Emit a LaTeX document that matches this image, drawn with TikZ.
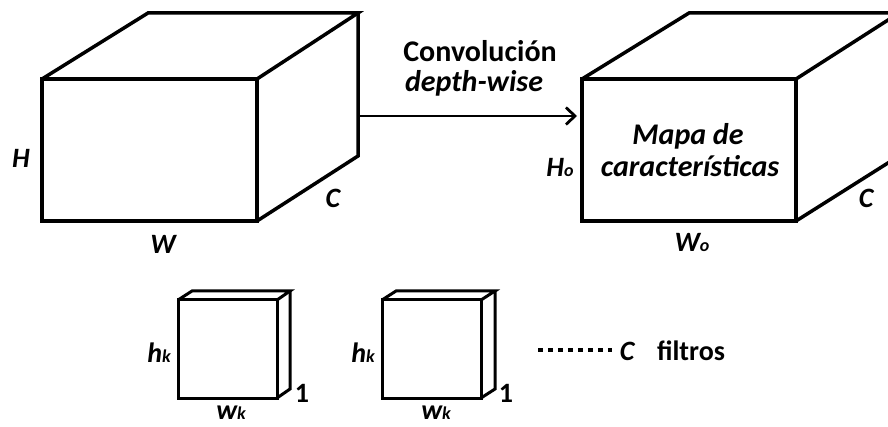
\documentclass[tikz,border=0pt]{standalone}
\usepackage{fontspec}
\setmainfont{Carlito}
\usetikzlibrary{arrows.meta}
\tikzset{
  box/.style={line width=3.5pt, line join=miter},
  thin box/.style={line width=3pt, line join=miter},
  big/.style={font=\fontsize{30}{36}\selectfont\bfseries},
  bigit/.style={font=\fontsize{30}{36}\selectfont\bfseries\itshape},
  lbl/.style={font=\fontsize{28}{30}\selectfont\bfseries\itshape},
  small/.style={font=\fontsize{28}{30}\selectfont\bfseries},
}
\newcommand{\subsm}[1]{{\fontsize{18}{18}\selectfont #1}}
\begin{document}
\begin{tikzpicture}[x=1pt,y=-1pt]
\useasboundingbox (0,0) rectangle (888,427);
\clip (0,0) rectangle (888,427);
% left cube
\coordinate (a1) at (42,79);
\coordinate (a2) at (257,79);
\coordinate (a3) at (257,221);
\coordinate (a4) at (42,221);
\coordinate (b1) at (148,13);
\coordinate (b2) at (358,13);
\coordinate (b3) at (358,156);
\draw[box] (a1) -- (a2) -- (a3) -- (a4) -- cycle;
\draw[box] (a1) -- (b1) -- (b2) -- (a2);
\draw[box] (b2) -- (b3) -- (a3);
% right cube
\coordinate (c1) at (582,79);
\coordinate (c2) at (796,79);
\coordinate (c3) at (796,221);
\coordinate (c4) at (582,221);
\coordinate (d1) at (689,13);
\coordinate (d2) at (899,13);
\coordinate (d3) at (899,156);
\draw[box] (c1) -- (c2) -- (c3) -- (c4) -- cycle;
\draw[box] (c1) -- (d1) -- (d2) -- (c2);
\draw[box] (d2) -- (d3) -- (c3);
% arrow
\coordinate (s) at (359,116);
\coordinate (t) at (577,116);
\draw[line width=2.8pt, -{Straight Barb[length=9pt,width=17pt,line width=2.8pt]}] (s) -- (t);
% labels
\node[lbl] (H) at (21,158) {H};
\node[lbl] (C1) at (333,198) {C};
\node[lbl] (W) at (163,244) {W};
\node[big, anchor=base] (conv) at (480,62) {Convolución};
\node[bigit, anchor=base] (dw) at (474,92) {depth-wise};
\node[bigit, anchor=base] (mapa) at (688,145) {Mapa de};
\node[bigit, anchor=base] (car) at (690,177) {características};
\node[lbl, anchor=base] (Ho) at (560,177) {H\subsm{o}};
\node[lbl] (C2) at (866,198) {C};
\node[lbl, anchor=base] (Wo) at (692,252) {W\subsm{o}};
% filter 1
\coordinate (e1) at (178,300);
\coordinate (e2) at (277,300);
\coordinate (e3) at (277,398);
\coordinate (e4) at (178,398);
\coordinate (g1) at (192,291);
\coordinate (g2) at (290,291);
\coordinate (g3) at (290,389);
\draw[thin box] (e1) -- (e2) -- (e3) -- (e4) -- cycle;
\draw[thin box] (e1) -- (g1) -- (g2) -- (e2);
\draw[thin box] (g2) -- (g3) -- (e3);
% filter 2
\coordinate (k1) at (382,300);
\coordinate (k2) at (481,300);
\coordinate (k3) at (481,398);
\coordinate (k4) at (382,398);
\coordinate (m1) at (396,291);
\coordinate (m2) at (495,291);
\coordinate (m3) at (495,389);
\draw[thin box] (k1) -- (k2) -- (k3) -- (k4) -- cycle;
\draw[thin box] (k1) -- (m1) -- (m2) -- (k2);
\draw[thin box] (m2) -- (m3) -- (k3);
% filter labels
\node[lbl, anchor=base] (hk1) at (159,362) {h\subsm{k}};
\node[lbl, anchor=base] (hk2) at (363,362) {h\subsm{k}};
\node[small, anchor=base] (one1) at (302,402) {1};
\node[small, anchor=base] (one2) at (506,402) {1};
\node[lbl, anchor=base, inner sep=0pt] (wk1) at (231,419) {w\subsm{k}};
\node[lbl, anchor=base, inner sep=0pt] (wk2) at (436,419) {w\subsm{k}};
% dots and C filtros
\coordinate (p1) at (538,350);
\coordinate (p2) at (612,350);
\draw[line width=4.5pt, dash pattern=on 4.5pt off 5.5pt] (p1) -- (p2);
\node[lbl, anchor=base] (C3) at (627,360) {C};
\node[small, anchor=base] (filt) at (691,360) {filtros};
\end{tikzpicture}
\end{document}
